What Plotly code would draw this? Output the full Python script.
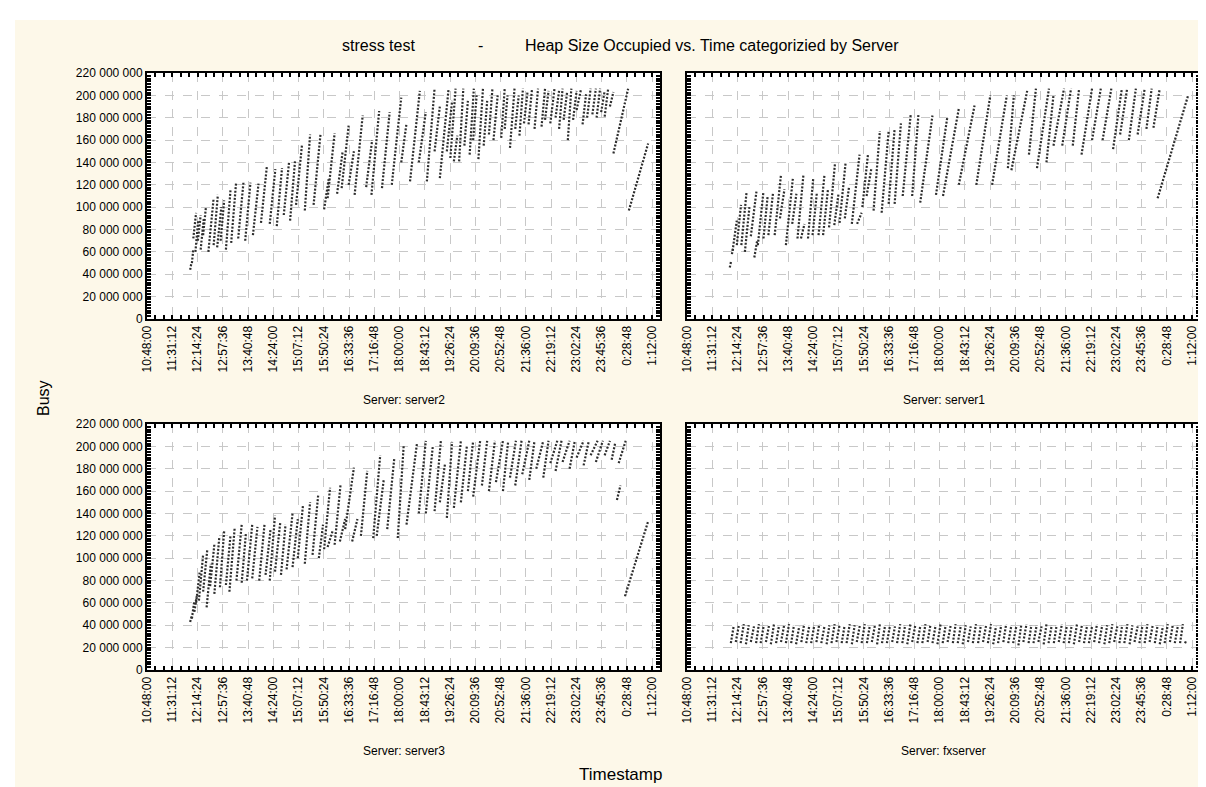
import plotly.graph_objects as go

# ---------------- data ----------------
X_TICK_LABELS = ["10:48:00", "11:31:12", "12:14:24", "12:57:36", "13:40:48", "14:24:00",
                 "15:07:12", "15:50:24", "16:33:36", "17:16:48", "18:00:00", "18:43:12",
                 "19:26:24", "20:09:36", "20:52:48", "21:36:00", "22:19:12", "23:02:24",
                 "23:45:36", "0:28:48", "1:12:00"]
Y_TICK_VALUES = [0, 20e6, 40e6, 60e6, 80e6, 100e6, 120e6, 140e6, 160e6, 180e6, 200e6, 220e6]

PANEL_TITLES = ["Server: server2", "Server: server1", "Server: server3", "Server: fxserver"]
TITLE_PARTS = ["stress test", "-", "Heap Size Occupied vs. Time categorizied by Server"]

# each tooth of the saw pattern: (start hour, end hour, low [M], high [M]); hours past 24 = next day
SERVER2 = [
    (12.03, 12.06, 44, 49), (12.08, 12.12, 50, 62), (12.12, 12.20, 72, 95), (12.18, 12.26, 60, 88),
    (12.25, 12.33, 70, 93), (12.33, 12.42, 62, 90), (12.40, 12.48, 75, 100), (12.55, 12.70, 60, 108),
    (12.70, 12.82, 66, 111), (12.80, 12.92, 64, 100), (12.90, 13.00, 70, 106), (13.05, 13.18, 62, 115),
    (13.20, 13.34, 68, 122), (13.40, 13.55, 72, 122), (13.60, 13.75, 70, 122), (13.82, 13.98, 75, 121),
    (14.05, 14.22, 86, 137), (14.30, 14.46, 85, 134), (14.50, 14.65, 83, 135), (14.70, 14.85, 93, 140),
    (14.88, 15.02, 88, 141), (15.05, 15.22, 102, 156), (15.30, 15.45, 97, 165), (15.55, 15.75, 102, 166),
    (15.85, 15.98, 98, 125), (15.95, 16.15, 108, 166), (16.22, 16.38, 112, 150), (16.35, 16.55, 117, 173),
    (16.55, 16.70, 120, 150), (16.72, 16.95, 111, 182), (17.05, 17.22, 118, 160), (17.20, 17.42, 111, 186),
    (17.50, 17.72, 117, 185), (17.78, 18.05, 120, 198), (18.05, 18.20, 140, 175), (18.30, 18.58, 123, 204),
    (18.55, 18.75, 140, 185), (18.78, 19.00, 123, 206), (19.00, 19.15, 150, 190), (19.15, 19.40, 126, 206),
    (19.35, 19.50, 150, 195), (19.45, 19.60, 144, 206), (19.55, 19.65, 141, 164), (19.70, 19.82, 141, 206),
    (19.85, 19.95, 155, 195), (20.00, 20.12, 147, 206), (20.10, 20.20, 160, 200), (20.25, 20.38, 143, 206),
    (20.40, 20.50, 155, 195), (20.55, 20.65, 165, 206), (20.68, 20.80, 160, 200), (20.90, 21.00, 162, 206),
    (21.00, 21.08, 170, 200), (21.15, 21.28, 153, 206), (21.30, 21.40, 170, 200), (21.42, 21.52, 164, 206),
    (21.55, 21.65, 175, 203), (21.68, 21.78, 174, 206), (21.85, 21.95, 170, 206), (22.05, 22.15, 172, 206),
    (22.15, 22.25, 178, 204), (22.30, 22.42, 175, 206), (22.45, 22.55, 180, 204), (22.55, 22.65, 170, 206),
    (22.68, 22.78, 178, 203), (22.80, 22.90, 160, 206), (22.95, 23.05, 178, 204), (23.05, 23.18, 187, 206),
    (23.22, 23.32, 174, 201), (23.35, 23.45, 180, 206), (23.50, 23.60, 183, 206), (23.62, 23.72, 180, 206),
    (23.75, 23.85, 185, 204), (23.85, 23.95, 181, 206), (24.00, 24.10, 190, 203), (24.10, 24.52, 148, 206),
    (24.54, 25.09, 97, 157),
]

SERVER1 = [
    (12.02, 12.06, 46, 52), (12.08, 12.12, 58, 64), (12.10, 12.22, 61, 88), (12.22, 12.34, 66, 102),
    (12.35, 12.50, 66, 114), (12.45, 12.58, 60, 100), (12.62, 12.78, 74, 114), (12.72, 12.80, 55, 70),
    (12.82, 12.98, 66, 114), (12.98, 13.10, 72, 110), (13.12, 13.25, 75, 112), (13.30, 13.48, 75, 129),
    (13.45, 13.58, 90, 116), (13.62, 13.82, 66, 126), (13.80, 13.92, 85, 112), (13.95, 14.12, 72, 129),
    (14.05, 14.15, 72, 85), (14.25, 14.40, 72, 126), (14.38, 14.50, 75, 112), (14.55, 14.72, 75, 129),
    (14.68, 14.82, 75, 116), (14.85, 15.02, 82, 139), (15.00, 15.12, 84, 112), (15.15, 15.32, 86, 139),
    (15.30, 15.42, 90, 118), (15.50, 15.72, 85, 147), (15.65, 15.78, 85, 95), (15.80, 15.96, 100, 147),
    (15.92, 16.06, 110, 135), (16.12, 16.30, 97, 168), (16.35, 16.55, 95, 168), (16.55, 16.72, 103, 170),
    (16.72, 16.90, 103, 175), (16.95, 17.18, 110, 183), (17.22, 17.40, 110, 183), (17.45, 17.80, 104, 182),
    (17.90, 18.22, 111, 180), (18.10, 18.55, 110, 188), (18.55, 19.00, 120, 191), (19.05, 19.45, 120, 200),
    (19.50, 19.92, 120, 200), (19.95, 20.12, 135, 200), (20.05, 20.50, 133, 204), (20.55, 20.75, 147, 206),
    (20.78, 21.12, 135, 206), (21.05, 21.25, 140, 200), (21.25, 21.55, 155, 206), (21.50, 21.75, 155, 206),
    (21.80, 21.98, 155, 206), (22.05, 22.35, 147, 206), (22.35, 22.60, 160, 206), (22.65, 22.90, 160, 206),
    (22.95, 23.20, 152, 206), (23.15, 23.35, 165, 206), (23.40, 23.60, 160, 206), (23.65, 23.85, 165, 206),
    (23.90, 24.05, 170, 206), (24.10, 24.28, 171, 206), (24.22, 25.09, 108, 200),
]

SERVER3 = [
    (12.03, 12.08, 43, 49), (12.08, 12.15, 46, 62), (12.15, 12.22, 52, 66), (12.20, 12.30, 60, 87),
    (12.28, 12.40, 62, 103), (12.40, 12.52, 70, 108), (12.50, 12.62, 56, 95), (12.60, 12.72, 75, 112),
    (12.72, 12.86, 68, 118), (12.88, 13.00, 74, 124), (13.05, 13.18, 76, 120), (13.15, 13.30, 70, 127),
    (13.35, 13.50, 80, 130), (13.50, 13.62, 78, 122), (13.65, 13.80, 80, 130), (13.80, 13.95, 82, 128),
    (14.00, 14.15, 80, 130), (14.18, 14.32, 85, 125), (14.30, 14.45, 80, 138), (14.45, 14.60, 88, 132),
    (14.62, 14.75, 85, 130), (14.78, 14.95, 90, 140), (14.95, 15.10, 92, 135), (15.10, 15.25, 100, 148),
    (15.30, 15.45, 95, 150), (15.52, 15.68, 103, 156), (15.70, 15.82, 100, 130), (15.85, 16.02, 108, 163),
    (15.95, 16.10, 110, 125), (16.15, 16.32, 112, 166), (16.30, 16.45, 115, 135), (16.45, 16.70, 126, 181),
    (16.65, 16.80, 115, 135), (16.90, 17.08, 120, 178), (17.25, 17.45, 118, 192), (17.35, 17.55, 120, 170),
    (17.65, 17.85, 126, 189), (17.95, 18.12, 118, 201), (18.20, 18.50, 130, 203), (18.55, 18.75, 140, 205),
    (18.75, 18.95, 140, 200), (19.00, 19.18, 142, 205), (19.15, 19.30, 150, 185), (19.35, 19.50, 136, 204),
    (19.55, 19.75, 145, 205), (19.75, 19.92, 150, 200), (19.95, 20.10, 160, 205), (20.10, 20.30, 155, 205),
    (20.35, 20.50, 165, 205), (20.55, 20.72, 160, 205), (20.75, 20.95, 168, 205), (20.95, 21.10, 160, 205),
    (21.15, 21.32, 172, 205), (21.30, 21.48, 165, 205), (21.50, 21.70, 175, 205), (21.70, 21.85, 170, 205),
    (21.90, 22.10, 180, 205), (22.10, 22.25, 172, 205), (22.30, 22.50, 185, 205), (22.45, 22.62, 178, 205),
    (22.65, 22.85, 186, 205), (22.85, 23.00, 180, 205), (23.05, 23.25, 190, 205), (23.25, 23.40, 183, 205),
    (23.45, 23.65, 192, 205), (23.60, 23.80, 186, 205), (23.85, 24.00, 192, 205), (24.05, 24.15, 188, 203),
    (24.20, 24.30, 152, 165), (24.25, 24.45, 185, 205), (24.43, 25.09, 66, 133),
]

FX_START = [12.05, 12.19, 12.33, 12.48, 12.62, 12.77, 12.90, 13.05, 13.19, 13.34, 13.48, 13.62, 13.77,
            13.91, 14.06, 14.20, 14.34, 14.49, 14.63, 14.78, 14.92, 15.06, 15.21, 15.35, 15.50, 15.64,
            15.78, 15.93, 16.07, 16.22, 16.36, 16.50, 16.65, 16.79, 16.94, 17.08, 17.22, 17.37, 17.51,
            17.66, 17.80, 17.94, 18.09, 18.23, 18.38, 18.52, 18.66, 18.81, 18.95, 19.10, 19.24, 19.38,
            19.53, 19.67, 19.82, 19.96, 20.10, 20.25, 20.39, 20.54, 20.68, 20.82, 20.97, 21.11, 21.26,
            21.40, 21.54, 21.69, 21.83, 21.98, 22.12, 22.26, 22.41, 22.55, 22.70, 22.84, 22.98, 23.13,
            23.27, 23.42, 23.56, 23.70, 23.85, 23.99, 24.14, 24.28, 24.42, 24.57, 24.71, 24.86, 25.00]
FX_END = [12.13, 12.28, 12.42, 12.56, 12.71, 12.85, 12.99, 13.14, 13.28, 13.42, 13.57, 13.71, 13.85,
          14.00, 14.14, 14.29, 14.43, 14.57, 14.72, 14.86, 15.01, 15.15, 15.29, 15.44, 15.58, 15.73,
          15.87, 16.01, 16.16, 16.30, 16.45, 16.59, 16.73, 16.88, 17.02, 17.17, 17.31, 17.45, 17.60,
          17.74, 17.89, 18.03, 18.17, 18.32, 18.46, 18.61, 18.75, 18.89, 19.04, 19.18, 19.33, 19.47,
          19.61, 19.76, 19.90, 20.05, 20.19, 20.33, 20.48, 20.62, 20.77, 20.91, 21.05, 21.20, 21.34,
          21.49, 21.63, 21.77, 21.92, 22.06, 22.21, 22.35, 22.49, 22.64, 22.78, 22.93, 23.07, 23.21,
          23.36, 23.50, 23.65, 23.79, 23.93, 24.08, 24.22, 24.37, 24.51, 24.65, 24.80, 24.94, 25.03]
FX_LOW = [24, 25, 24, 23, 25, 24, 24, 25, 23, 24, 25, 24, 24, 23, 25, 24, 24, 25, 24, 23, 24, 25, 24, 24,
          23, 25, 24, 24, 25, 23, 24, 24, 25, 24, 24, 23, 25, 24, 24, 25, 24, 23, 24, 25, 24, 24, 23, 25,
          24, 24, 25, 24, 23, 24, 25, 24, 24, 22, 25, 24, 24, 25, 23, 24, 24, 25, 24, 24, 23, 25, 24, 24,
          25, 24, 23, 24, 25, 24, 24, 23, 25, 24, 24, 25, 24, 23, 24, 25, 24, 24, 24]
FX_HIGH = [39, 40, 41, 40, 39, 41, 40, 40, 41, 39, 40, 41, 40, 39, 41, 40, 40, 41, 39, 40, 41, 40, 39, 41,
           40, 40, 41, 39, 40, 41, 40, 40, 39, 41, 40, 41, 40, 39, 41, 40, 40, 41, 39, 40, 41, 40, 40, 39,
           41, 40, 40, 41, 39, 40, 41, 40, 39, 40, 41, 40, 40, 39, 41, 40, 40, 41, 39, 40, 41, 40, 40, 39,
           41, 40, 40, 41, 39, 40, 41, 40, 39, 40, 41, 40, 40, 39, 41, 40, 40, 41, 26]
FXSERVER = list(zip(FX_START, FX_END, FX_LOW, FX_HIGH))

# ---------------- helpers ----------------
def label_to_hours(s):
    h, m, sec = (int(p) for p in s.split(":"))
    v = h + m / 60 + sec / 3600
    return v + 24 if h < 10 else v

X_TICK_VALUES = [label_to_hours(s) for s in X_TICK_LABELS]

def teeth_xy(teeth):
    xs, ys = [], []
    for t0, t1, lo, hi in teeth:
        xs += [t0, t1, None]
        ys += [lo * 1e6, hi * 1e6, None]
    return xs, ys

# ---------------- figure ----------------
W, H = 1206, 787
L, R, T, B = 139, 14, 65, 125
PW, PH = W - L - R, H - T - B

def px_x(px):
    return (px - L) / PW

def px_y(py):
    return (H - B - py) / PH

FONT = "Liberation Sans, Arial, sans-serif"
INK = "rgb(45,45,45)"
BEIGE = "rgb(253,248,233)"

fig = go.Figure()
series = [SERVER2, SERVER1, SERVER3, FXSERVER]
for i, teeth in enumerate(series):
    xs, ys = teeth_xy(teeth)
    sfx = "" if i == 0 else str(i + 1)
    fig.add_trace(go.Scatter(
        x=xs, y=ys, mode="lines", xaxis="x" + sfx, yaxis="y" + sfx,
        line=dict(color=INK, width=2.2, dash="2px,1.6px"),
        hoverinfo="skip", showlegend=False,
    ))

x_domains = [[0, px_x(652)], [px_x(679), 1], [0, px_x(652)], [px_x(679), 1]]
y_domains = [[px_y(311), 1], [px_y(311), 1], [0, px_y(416)], [0, px_y(416)]]

x_range = [10.8, 10.8 + 513 * (14.4 / 505)]
tick_common = dict(ticks="inside", ticklen=4, tickwidth=2, tickcolor="black",
                   showline=True, linewidth=2, linecolor="black", mirror="ticks",
                   showgrid=True, gridcolor="rgb(200,200,200)", griddash="dash", gridwidth=1,
                   zeroline=False, fixedrange=True,
                   tickfont=dict(family=FONT, size=12, color="black"))

layout_axes = {}
for i in range(4):
    sfx = "" if i == 0 else str(i + 1)
    layout_axes["xaxis" + sfx] = dict(
        domain=x_domains[i], anchor="y" + sfx, range=x_range,
        tickmode="array", tickvals=X_TICK_VALUES, ticktext=X_TICK_LABELS, tickangle=-90,
        minor=dict(tick0=10.8, dtick=0.24, ticks="inside", ticklen=4, tickwidth=2,
                   tickcolor="black", showgrid=False),
        **tick_common)
    layout_axes["yaxis" + sfx] = dict(
        domain=y_domains[i], anchor="x" + sfx, range=[0, 220e6],
        tickmode="array", tickvals=Y_TICK_VALUES, tickformat=",d",
        showticklabels=(i % 2 == 0),
        minor=dict(tick0=0, dtick=2.5e6, ticks="inside", ticklen=4, tickwidth=2,
                   tickcolor="black", showgrid=False),
        **tick_common)

annotations = [
    dict(text=TITLE_PARTS[0], x=px_x(332), y=px_y(37), xanchor="left", font=dict(size=16)),
    dict(text=TITLE_PARTS[1], x=px_x(472), y=px_y(37), xanchor="center", font=dict(size=16)),
    dict(text=TITLE_PARTS[2], x=px_x(893), y=px_y(37), xanchor="right", font=dict(size=16)),
    dict(text="Busy", x=px_x(36), y=px_y(390), textangle=-90, font=dict(size=16)),
    dict(text="Timestamp", x=px_x(612), y=px_y(766), font=dict(size=17)),
]
centers_x = [395.5, 935.5, 395.5, 935.5]
centers_y = [392, 392, 743, 743]
for i, t in enumerate(PANEL_TITLES):
    annotations.append(dict(text=t, x=px_x(centers_x[i]), y=px_y(centers_y[i]), font=dict(size=12)))
for a in annotations:
    a.setdefault("xanchor", "center")
    a.update(xref="paper", yref="paper", showarrow=False, yanchor="middle")
    a["font"].update(family=FONT, color="black")

# white outer frame around the beige page, and white plotting areas
frame = [(0, 0, W, 12), (0, 0, 7, H), (1199, 0, W, H), (0, 784, W, H)]
shapes = [dict(type="rect", xref="paper", yref="paper", layer="below",
               x0=px_x(a), x1=px_x(c), y0=px_y(d), y1=px_y(b),
               fillcolor="white", line=dict(width=0)) for a, b, c, d in frame]
for xd, yd in zip(x_domains, y_domains):
    shapes.append(dict(type="rect", xref="paper", yref="paper", layer="below",
                       x0=xd[0], x1=xd[1], y0=yd[0], y1=yd[1],
                       fillcolor="white", line=dict(width=0)))

fig.update_layout(
    width=W, height=H, margin=dict(l=L, r=R, t=T, b=B, pad=0),
    paper_bgcolor=BEIGE, plot_bgcolor="white",
    separators=". ",
    font=dict(family=FONT, size=12, color="black"),
    annotations=annotations,
    shapes=shapes,
    **layout_axes,
)

fig.write_html("out.html")
